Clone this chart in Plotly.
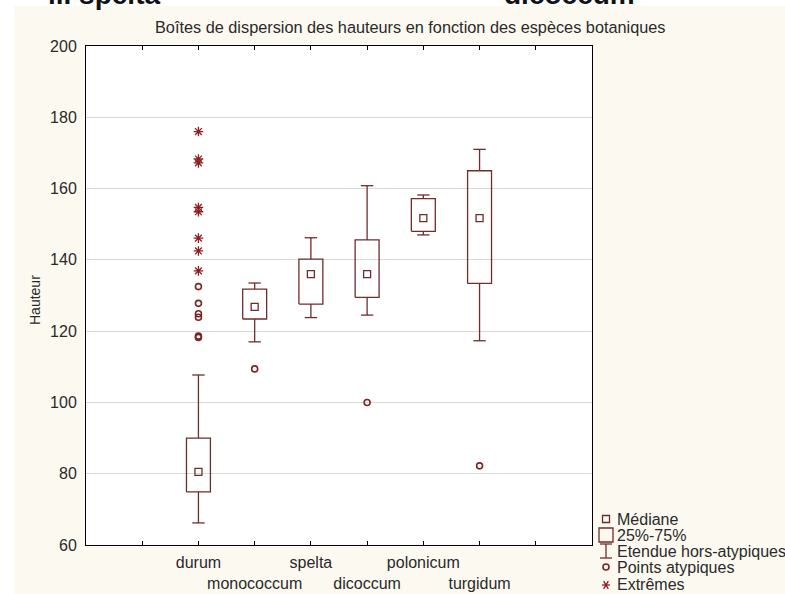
import plotly.graph_objects as go

# ---- data -------------------------------------------------------------
species = ["durum", "monococcum", "spelta", "dicoccum", "polonicum", "turgidum"]
lower_whisker = [66.2, 117.0, 123.8, 124.5, 147.0, 117.3]
q1 = [74.9, 123.4, 127.6, 129.5, 148.0, 133.4]
median = [80.5, 126.8, 136.0, 136.0, 151.7, 151.7]
q3 = [90.0, 131.8, 140.2, 145.6, 157.2, 165.0]
upper_whisker = [107.7, 133.5, 146.2, 160.8, 158.2, 171.0]

outlier_species = ["durum", "durum", "durum", "durum", "durum", "durum",
                   "monococcum", "dicoccum", "turgidum"]
outlier_values = [132.5, 127.8, 124.9, 123.9, 118.6, 118.2, 109.4, 100.0, 82.2]

extreme_species = ["durum"] * 8
extreme_values = [176.0, 168.3, 167.2, 154.7, 153.5, 146.1, 142.5, 136.9]

y_ticks = [60, 80, 100, 120, 140, 160, 180, 200]

# ---- styling / geometry ----------------------------------------------
FIG_W, FIG_H = 785, 594
L, R, T, B = 86, 193, 46, 49
PW, PH = FIG_W - L - R, FIG_H - T - B
CREAM = "#FCF9F0"
BOX_COL = "#6E2D2D"
PT_COL = "#7A2424"
EXT_COL = "#8C1F1F"
TXT = "#2A2A2A"
FONT = "Arial, Liberation Sans, sans-serif"
HALF_BOX = 0.213
HALF_CAP = 0.11


def px_x(px):
    return (px - L) / PW


def px_y(py):
    return (FIG_H - B - py) / PH


pos = {name: i for i, name in enumerate(species)}

# box outlines, whiskers and caps as line segments
bx, by = [], []
for i in range(len(species)):
    x0, x1 = i - HALF_BOX, i + HALF_BOX
    bx += [x0, x1, x1, x0, x0, None]
    by += [q1[i], q1[i], q3[i], q3[i], q1[i], None]
    bx += [i, i, None, i, i, None]
    by += [q3[i], upper_whisker[i], None, q1[i], lower_whisker[i], None]
    bx += [i - HALF_CAP, i + HALF_CAP, None, i - HALF_CAP, i + HALF_CAP, None]
    by += [upper_whisker[i], upper_whisker[i], None,
           lower_whisker[i], lower_whisker[i], None]

fig = go.Figure()
fig.add_trace(go.Scatter(x=bx, y=by, mode="lines",
                         line=dict(color=BOX_COL, width=1.3),
                         hoverinfo="skip", showlegend=False))
fig.add_trace(go.Scatter(x=list(range(len(species))), y=median, mode="markers",
                         marker=dict(symbol="square-open", size=7, color=BOX_COL,
                                     line=dict(color=BOX_COL, width=1.3)),
                         showlegend=False))
fig.add_trace(go.Scatter(x=[pos[s] for s in outlier_species], y=outlier_values,
                         mode="markers",
                         marker=dict(symbol="circle-open", size=6, color=PT_COL,
                                     line=dict(color=PT_COL, width=1.6)),
                         showlegend=False))
fig.add_trace(go.Scatter(x=[pos[s] for s in extreme_species], y=extreme_values,
                         mode="markers",
                         marker=dict(symbol="asterisk-open", size=8, color=EXT_COL,
                                     line=dict(color=EXT_COL, width=1.3)),
                         showlegend=False))

# staggered category labels
tickvals = list(range(-1, 8))
ticktext = []
for v in tickvals:
    if 0 <= v < len(species):
        ticktext.append(species[v] if v % 2 == 0 else "<br>" + species[v])
    else:
        ticktext.append("")

shapes = [
    # cream page with white strips at the top and left edge
    dict(type="rect", xref="paper", yref="paper", x0=px_x(0), x1=px_x(14),
         y0=px_y(FIG_H), y1=px_y(0), fillcolor="white", line=dict(width=0),
         layer="below"),
    dict(type="rect", xref="paper", yref="paper", x0=px_x(0), x1=px_x(FIG_W),
         y0=px_y(6), y1=px_y(0), fillcolor="white", line=dict(width=0),
         layer="below"),
]

# key at the lower right
key_x = 606
rows = [519, 535, 551, 567, 584]
labels = ["Médiane", "25%-75%", "Etendue hors-atypiques", "Points atypiques", "Extrêmes"]


def seg(xa, ya, xb, yb, color=BOX_COL, w=1.3):
    return dict(type="line", xref="paper", yref="paper",
                x0=px_x(xa), y0=px_y(ya), x1=px_x(xb), y1=px_y(yb),
                line=dict(color=color, width=w))


r = rows[0]
shapes.append(dict(type="rect", xref="paper", yref="paper",
                   x0=px_x(key_x - 3.5), x1=px_x(key_x + 3.5),
                   y0=px_y(r + 3.5), y1=px_y(r - 3.5),
                   line=dict(color=BOX_COL, width=1.3)))
r = rows[1]
shapes.append(dict(type="rect", xref="paper", yref="paper",
                   x0=px_x(key_x - 7), x1=px_x(key_x + 7),
                   y0=px_y(r + 7), y1=px_y(r - 7),
                   line=dict(color=BOX_COL, width=1.3)))
r = rows[2]
shapes += [seg(key_x, r - 7, key_x, r + 7),
           seg(key_x - 6, r - 7, key_x + 6, r - 7),
           seg(key_x - 6, r + 7, key_x + 6, r + 7)]
r = rows[3]
shapes.append(dict(type="circle", xref="paper", yref="paper",
                   x0=px_x(key_x - 3), x1=px_x(key_x + 3),
                   y0=px_y(r + 3), y1=px_y(r - 3),
                   line=dict(color=PT_COL, width=1.6)))
r = rows[4] + 1
shapes += [seg(key_x - 4, r, key_x + 4, r, EXT_COL),
           seg(key_x - 2.3, r - 3.8, key_x + 2.3, r + 3.8, EXT_COL),
           seg(key_x - 2.3, r + 3.8, key_x + 2.3, r - 3.8, EXT_COL)]

annotations = [
    dict(text="Boîtes de dispersion des hauteurs en fonction des espèces botaniques",
         x=px_x(410), y=px_y(27), xref="paper", yref="paper", showarrow=False,
         xanchor="center", yanchor="middle",
         font=dict(family=FONT, size=16.3, color=TXT)),
    dict(text="Hauteur", x=px_x(35), y=px_y(300), xref="paper", yref="paper",
         xanchor="center", yanchor="middle",
         showarrow=False, textangle=-90, font=dict(family=FONT, size=14, color=TXT)),
    dict(text="<b>ii. spelta</b>", x=px_x(46), y=px_y(12), xref="paper", yref="paper",
         xanchor="left", yanchor="bottom", showarrow=False,
         font=dict(family=FONT, size=28, color="#111")),
    dict(text="<b>dicoccum</b>", x=px_x(502), y=px_y(12), xref="paper", yref="paper",
         xanchor="left", yanchor="bottom", showarrow=False,
         font=dict(family=FONT, size=28, color="#111")),
]
for r, lab in zip(rows, labels):
    annotations.append(dict(text=lab, x=px_x(615), y=px_y(r), xref="paper",
                            yref="paper", xanchor="left", yanchor="middle",
                            showarrow=False,
                            font=dict(family=FONT, size=16, color=TXT)))

fig.update_layout(
    width=FIG_W, height=FIG_H,
    margin=dict(l=L, r=R, t=T, b=B, pad=0, autoexpand=False),
    paper_bgcolor=CREAM, plot_bgcolor="white",
    showlegend=False,
    shapes=shapes, annotations=annotations,
    xaxis=dict(range=[-2, 7], tickvals=tickvals, ticktext=ticktext,
               tickangle=0, automargin=False, ticklabelstandoff=3,
               showgrid=False, zeroline=False,
               showline=True, linecolor="black", linewidth=1, mirror="ticks",
               ticks="inside", ticklen=4, tickcolor="black",
               tickfont=dict(family=FONT, size=16, color=TXT)),
    yaxis=dict(range=[60, 200], tickvals=y_ticks, automargin=False,
               ticklabelstandoff=5,
               showgrid=True, gridcolor="#D9D9D9", gridwidth=1, zeroline=False,
               showline=True, linecolor="black", linewidth=1, mirror=True,
               ticks="", tickfont=dict(family=FONT, size=16, color=TXT)),
)

fig.write_html("out.html")
